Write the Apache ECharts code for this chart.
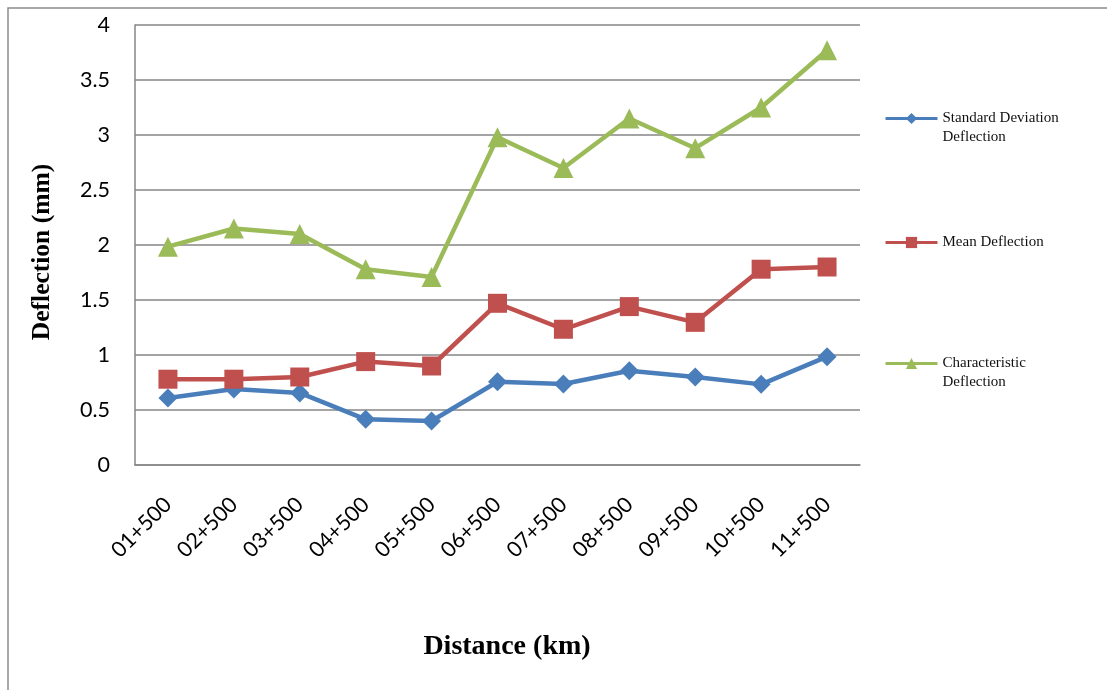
<!DOCTYPE html>
<html>
<head>
<meta charset="utf-8">
<script src="https://cdn.jsdelivr.net/npm/echarts@6/dist/echarts.min.js"></script>
<style>
html,body{margin:0;padding:0;background:#fff;}
#main{width:1107px;height:690px;}
</style>
</head>
<body>
<div id="main"></div>
<script>
const categories = ['01+500','02+500','03+500','04+500','05+500','06+500','07+500','08+500','09+500','10+500','11+500'];
const stdDev = [0.61, 0.69, 0.655, 0.415, 0.40, 0.757, 0.736, 0.857, 0.80, 0.733, 0.985];
const meanDef = [0.78, 0.78, 0.80, 0.94, 0.90, 1.47, 1.234, 1.44, 1.297, 1.78, 1.80];
const charDef = [1.985, 2.15, 2.10, 1.78, 1.71, 2.98, 2.70, 3.15, 2.88, 3.25, 3.77];
const yTicks = [0, 0.5, 1, 1.5, 2, 2.5, 3, 3.5, 4];

const chart = echarts.init(document.getElementById('main'), null, {renderer:'canvas'});
const serif = '"Liberation Serif","Times New Roman",serif';
const sans = 'Lato, "Open Sans", sans-serif';

const legendLabels = {
  'Standard Deviation Deflection': '\nStandard Deviation\nDeflection',
  'Mean Deflection': 'Mean Deflection',
  'Characteristic Deflection': '\nCharacteristic\nDeflection'
};

function legendCfg(name, top) {
  return {
    data: [name],
    left: 884,
    top: top,
    orient: 'vertical',
    itemWidth: 52,
    itemHeight: 14,
    itemGap: 0,
    padding: 0,
    lineStyle: {width: 3},
    textStyle: {fontFamily: serif, fontSize: 15, color: '#111', lineHeight: 19},
    formatter: function(n){ return legendLabels[n]; }
  };
}

chart.setOption({
  animation: false,
  backgroundColor: '#fff',
  graphic: [{
    type: 'rect', shape: {x: 8, y: 8, width: 1120, height: 700},
    style: {fill: 'none', stroke: '#8c8c8c', lineWidth: 1.5}, silent: true, z: -1
  }],
  grid: {left: 135, right: 247, top: 25, bottom: 225, containLabel: false},
  legend: [
    legendCfg('Standard Deviation Deflection', 90),
    legendCfg('Mean Deflection', 233),
    legendCfg('Characteristic Deflection', 335)
  ],
  xAxis: {
    type: 'category',
    data: categories,
    boundaryGap: true,
    axisLine: {show: true, lineStyle: {color: '#868686', width: 1.5}},
    axisTick: {show: false},
    axisLabel: {rotate: 45, fontFamily: sans, fontSize: 21.5, color: '#000', margin: 36, interval: 0},
    name: 'Distance (km)',
    nameLocation: 'middle',
    nameGap: 168,
    nameTextStyle: {fontFamily: serif, fontWeight: 'bold', fontSize: 28, color: '#000', padding: [0,0,0,19]}
  },
  yAxis: {
    type: 'value',
    min: 0, max: 4, interval: 0.5,
    axisLine: {show: true, lineStyle: {color: '#868686', width: 1.5}},
    axisTick: {show: false},
    splitLine: {show: true, lineStyle: {color: '#868686', width: 1.5}},
    axisLabel: {fontFamily: sans, fontSize: 21.5, color: '#000', margin: 25,
      formatter: function(v){ return yTicks.indexOf(v) >= 0 ? String(v) : ''; }},
    name: 'Deflection (mm)',
    nameLocation: 'middle',
    nameGap: 80,
    nameTextStyle: {fontFamily: serif, fontWeight: 'bold', fontSize: 25.5, color: '#000', padding: [0,0,0,-14]}
  },
  series: [
    {name: 'Standard Deviation Deflection', type: 'line', data: stdDev,
     symbol: 'diamond', symbolSize: 19, color: '#4A7EBB',
     lineStyle: {width: 4.5, color: '#4A7EBB'}, itemStyle: {color: '#4A7EBB'}, z: 3},
    {name: 'Mean Deflection', type: 'line', data: meanDef,
     symbol: 'rect', symbolSize: 19, color: '#C0504D',
     lineStyle: {width: 4.5, color: '#C0504D'}, itemStyle: {color: '#C0504D'}, z: 4},
    {name: 'Characteristic Deflection', type: 'line', data: charDef,
     symbol: 'triangle', symbolSize: 20, color: '#9BBB59',
     lineStyle: {width: 4.5, color: '#9BBB59'}, itemStyle: {color: '#9BBB59'}, z: 5}
  ]
});
</script>
</body>
</html>
